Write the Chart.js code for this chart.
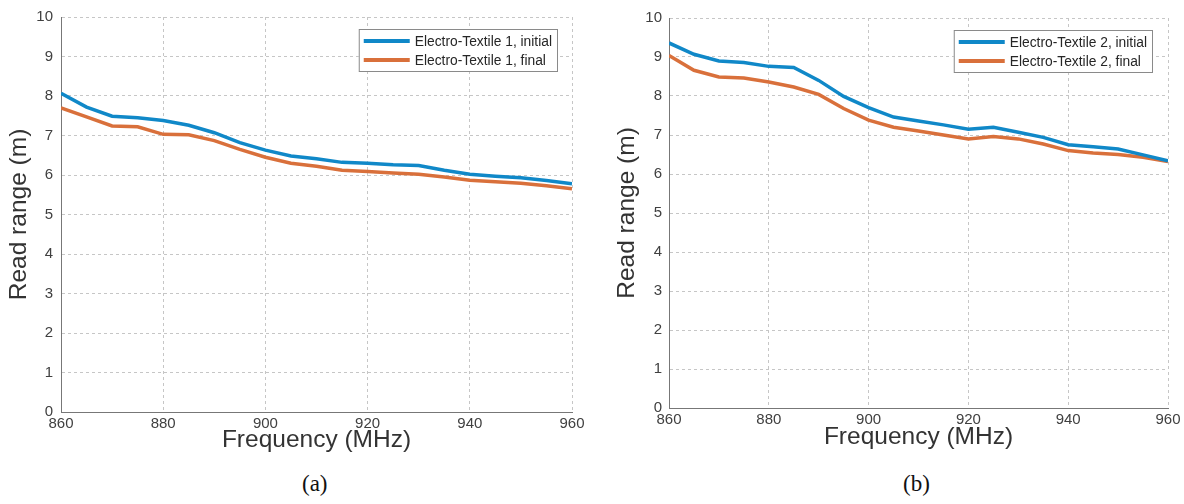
<!DOCTYPE html>
<html>
<head>
<meta charset="utf-8">
<script src="https://cdn.jsdelivr.net/npm/chart.js@4/dist/chart.umd.min.js"></script>
<style>
  html, body { margin: 0; padding: 0; background: #fff; overflow: hidden; }
  #wrap { position: relative; width: 1184px; height: 504px; }
  canvas { position: absolute; top: 0; }
  #chartA { left: 0; }
  #chartB { left: 600px; }
  .cap { position: absolute; top: 471px; font: 23px "Liberation Serif", "Times New Roman", serif; color: #111; }
</style>
</head>
<body>
<div id="wrap">
  <canvas id="chartA" width="600" height="460"></canvas>
  <canvas id="chartB" width="584" height="460"></canvas>
  <div class="cap" style="left:302px">(a)</div>
  <div class="cap" style="left:903px">(b)</div>
</div>
<script>
// frequency points (MHz)
const freq = [860, 865, 870, 875, 880, 885, 890, 895, 900, 905, 910, 915, 920, 925, 930, 935, 940, 945, 950, 955, 960];

// read range (m), panel (a)
const et1Initial = [8.07, 7.72, 7.49, 7.45, 7.38, 7.26, 7.07, 6.82, 6.63, 6.48, 6.41, 6.32, 6.30, 6.26, 6.24, 6.12, 6.02, 5.97, 5.93, 5.86, 5.78];
const et1Final = [7.70, 7.47, 7.24, 7.22, 7.03, 7.02, 6.87, 6.65, 6.45, 6.30, 6.22, 6.12, 6.09, 6.05, 6.02, 5.95, 5.87, 5.83, 5.79, 5.73, 5.65];

// read range (m), panel (b)
const et2Initial = [9.36, 9.07, 8.90, 8.86, 8.76, 8.73, 8.40, 7.99, 7.70, 7.46, 7.36, 7.26, 7.15, 7.20, 7.07, 6.94, 6.75, 6.70, 6.64, 6.49, 6.34];
const et2Final = [9.04, 8.66, 8.49, 8.46, 8.36, 8.23, 8.04, 7.68, 7.38, 7.20, 7.10, 7.00, 6.90, 6.96, 6.90, 6.77, 6.60, 6.54, 6.50, 6.43, 6.32];

const labelsA = ["Electro-Textile 1, initial", "Electro-Textile 1, final"];
const labelsB = ["Electro-Textile 2, initial", "Electro-Textile 2, final"];

const xTitle = "Frequency (MHz)";
const yTitle = "Read range (m)";

const blue = "#1088c8";
const orange = "#d9703b";

// legend box drawn inside the plot area, top right (matlab style)
const boxLegend = {
  id: "boxLegend",
  afterDatasetsDraw(chart) {
    const o = chart.options.plugins.boxLegend;
    const ctx = chart.ctx;
    const area = chart.chartArea;
    ctx.save();
    ctx.font = "13.8px 'Liberation Sans', Arial, sans-serif";
    let tw = 0;
    chart.data.datasets.forEach((ds) => {
      tw = Math.max(tw, ctx.measureText(ds.label).width);
    });
    const w = 5 + o.lineLen + 5 + tw + 5;
    const h = 42;
    const x = area.right - o.right - w;
    const y = area.top + o.top;
    ctx.fillStyle = "#fff";
    ctx.fillRect(x, y, w, h);
    ctx.strokeStyle = "#8a8a8a";
    ctx.lineWidth = 1;
    ctx.strokeRect(x + 0.5, y + 0.5, w, h);
    chart.data.datasets.forEach((ds, i) => {
      const ry = y + 12 + i * 19;
      ctx.strokeStyle = ds.borderColor;
      ctx.lineWidth = 4;
      ctx.beginPath();
      ctx.moveTo(x + 5, ry);
      ctx.lineTo(x + 5 + o.lineLen, ry);
      ctx.stroke();
      ctx.fillStyle = "#262626";
      ctx.textBaseline = "middle";
      ctx.fillText(ds.label, x + 10 + o.lineLen, ry + 1);
    });
    ctx.restore();
  },
};

function makeChart(id, initial, final, labels, lay) {
  const ctx = document.getElementById(id);
  new Chart(ctx, {
    type: "line",
    data: {
      datasets: [
        {
          label: labels[0],
          data: freq.map((f, i) => ({ x: f, y: initial[i] })),
          borderColor: blue,
          borderWidth: 3.5,
          pointRadius: 0,
          tension: 0,
        },
        {
          label: labels[1],
          data: freq.map((f, i) => ({ x: f, y: final[i] })),
          borderColor: orange,
          borderWidth: 3.5,
          pointRadius: 0,
          tension: 0,
        },
      ],
    },
    options: {
      responsive: false,
      animation: false,
      layout: { padding: { left: 0, top: lay.top, right: lay.right, bottom: 0 } },
      plugins: {
        legend: { display: false },
        tooltip: { enabled: false },
        boxLegend: { right: lay.legRight, top: lay.legTop, lineLen: 46 },
      },
      scales: {
        x: {
          type: "linear",
          min: 860,
          max: 960,
          afterFit: (s) => { s.height = lay.xHeight; },
          ticks: {
            stepSize: 20,
            padding: 3,
            color: "#404040",
            font: { family: "'Liberation Sans', Arial, sans-serif", size: 15 },
          },
          grid: { color: "#c6c6c6", drawTicks: false },
          border: { display: true, color: "#777", width: 1, dash: [3, 3] },
          title: {
            display: true,
            text: xTitle,
            color: "#333",
            padding: { top: 0, bottom: lay.xTitlePad },
            font: { family: "'Liberation Sans', Arial, sans-serif", size: 24.5 },
          },
        },
        y: {
          min: 0,
          max: 10,
          afterFit: (s) => { s.width = lay.yWidth; },
          ticks: {
            stepSize: 1,
            padding: lay.yTickPad,
            color: "#404040",
            font: { family: "'Liberation Sans', Arial, sans-serif", size: 15 },
          },
          grid: { color: "#c6c6c6", drawTicks: false },
          border: { display: true, color: "#777", width: 1, dash: [3, 3] },
          title: {
            display: true,
            text: yTitle,
            color: "#333",
            padding: { top: lay.yTitlePad, bottom: 0 },
            font: { family: "'Liberation Sans', Arial, sans-serif", size: 24.5 },
          },
        },
      },
    },
    plugins: [boxLegend],
  });
}

makeChart("chartA", et1Initial, et1Final, labelsA, {
  top: 12, right: 28, xHeight: 48, yWidth: 61, xTitlePad: 5, yTitlePad: 5,
  yTickPad: 8, legRight: 15, legTop: 12,
});

makeChart("chartB", et2Initial, et2Final, labelsB, {
  top: 18, right: 16, xHeight: 52, yWidth: 69, xTitlePad: 8, yTitlePad: 13,
  yTickPad: 7, legRight: 16, legTop: 12,
});
</script>
</body>
</html>
